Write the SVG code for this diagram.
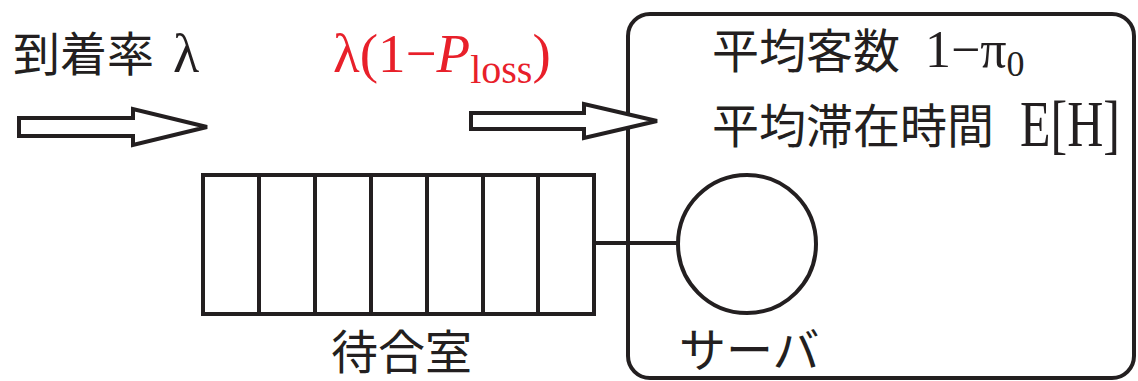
<svg xmlns="http://www.w3.org/2000/svg" width="1138" height="381" viewBox="0 0 1138 381">
<style>
.ln{fill:none;stroke:#231f20;stroke-width:4}
.arr{fill:#fff;stroke:#231f20;stroke-width:4;stroke-linejoin:miter}
.jp{font-family:"Noto Sans CJK JP","Noto Sans",sans-serif;font-size:47px;fill:#231f20}
.se{font-family:"Liberation Serif",serif;fill:#231f20}
.red{fill:#e8202a}
</style>
<rect width="1138" height="381" fill="#fff"/>
<g id="system">
<rect class="ln" x="628" y="14" width="506" height="364" rx="22"/>
<text class="jp" x="712" y="68" font-size="48">平均客数</text>
<text class="se" x="925" y="67" font-size="52">1−π<tspan font-size="36" dy="9">0</tspan></text>
<text class="jp" x="712" y="143" font-size="48">平均滞在時間</text>
<text class="se" transform="translate(1020 146) scale(1 1.3)" x="0" y="0" font-size="50">E[H]</text>
</g>
<g id="queue">
<rect class="ln" x="203" y="175" width="391" height="139"/>
<path class="ln" d="M259 175V314M315 175V314M371 175V314M427 175V314M483 175V314M538 175V314"/>
<text class="jp" x="331" y="369">待合室</text>
</g>
<g id="server">
<circle class="ln" cx="747" cy="244" r="69"/>
<text class="jp" x="679" y="367">サーバ</text>
</g>
<g id="labels">
<text class="jp" x="13" y="71" font-size="48">到着率</text>
<text class="se" x="173" y="72" font-size="54">λ</text>
<text class="se red" x="333" y="72" font-size="55">λ(1−<tspan font-style="italic">P</tspan><tspan font-size="40" dy="11">loss</tspan><tspan dy="-11">)</tspan></text>
</g>
<g id="connectors">
<path class="arr" d="M19 118H133V109L207 127L133 145V136H19Z"/>
<path class="arr" d="M471 113H584V104L657 121L584 138V129H471Z"/>
<path class="ln" d="M594 243H677"/>
</g>
</svg>
